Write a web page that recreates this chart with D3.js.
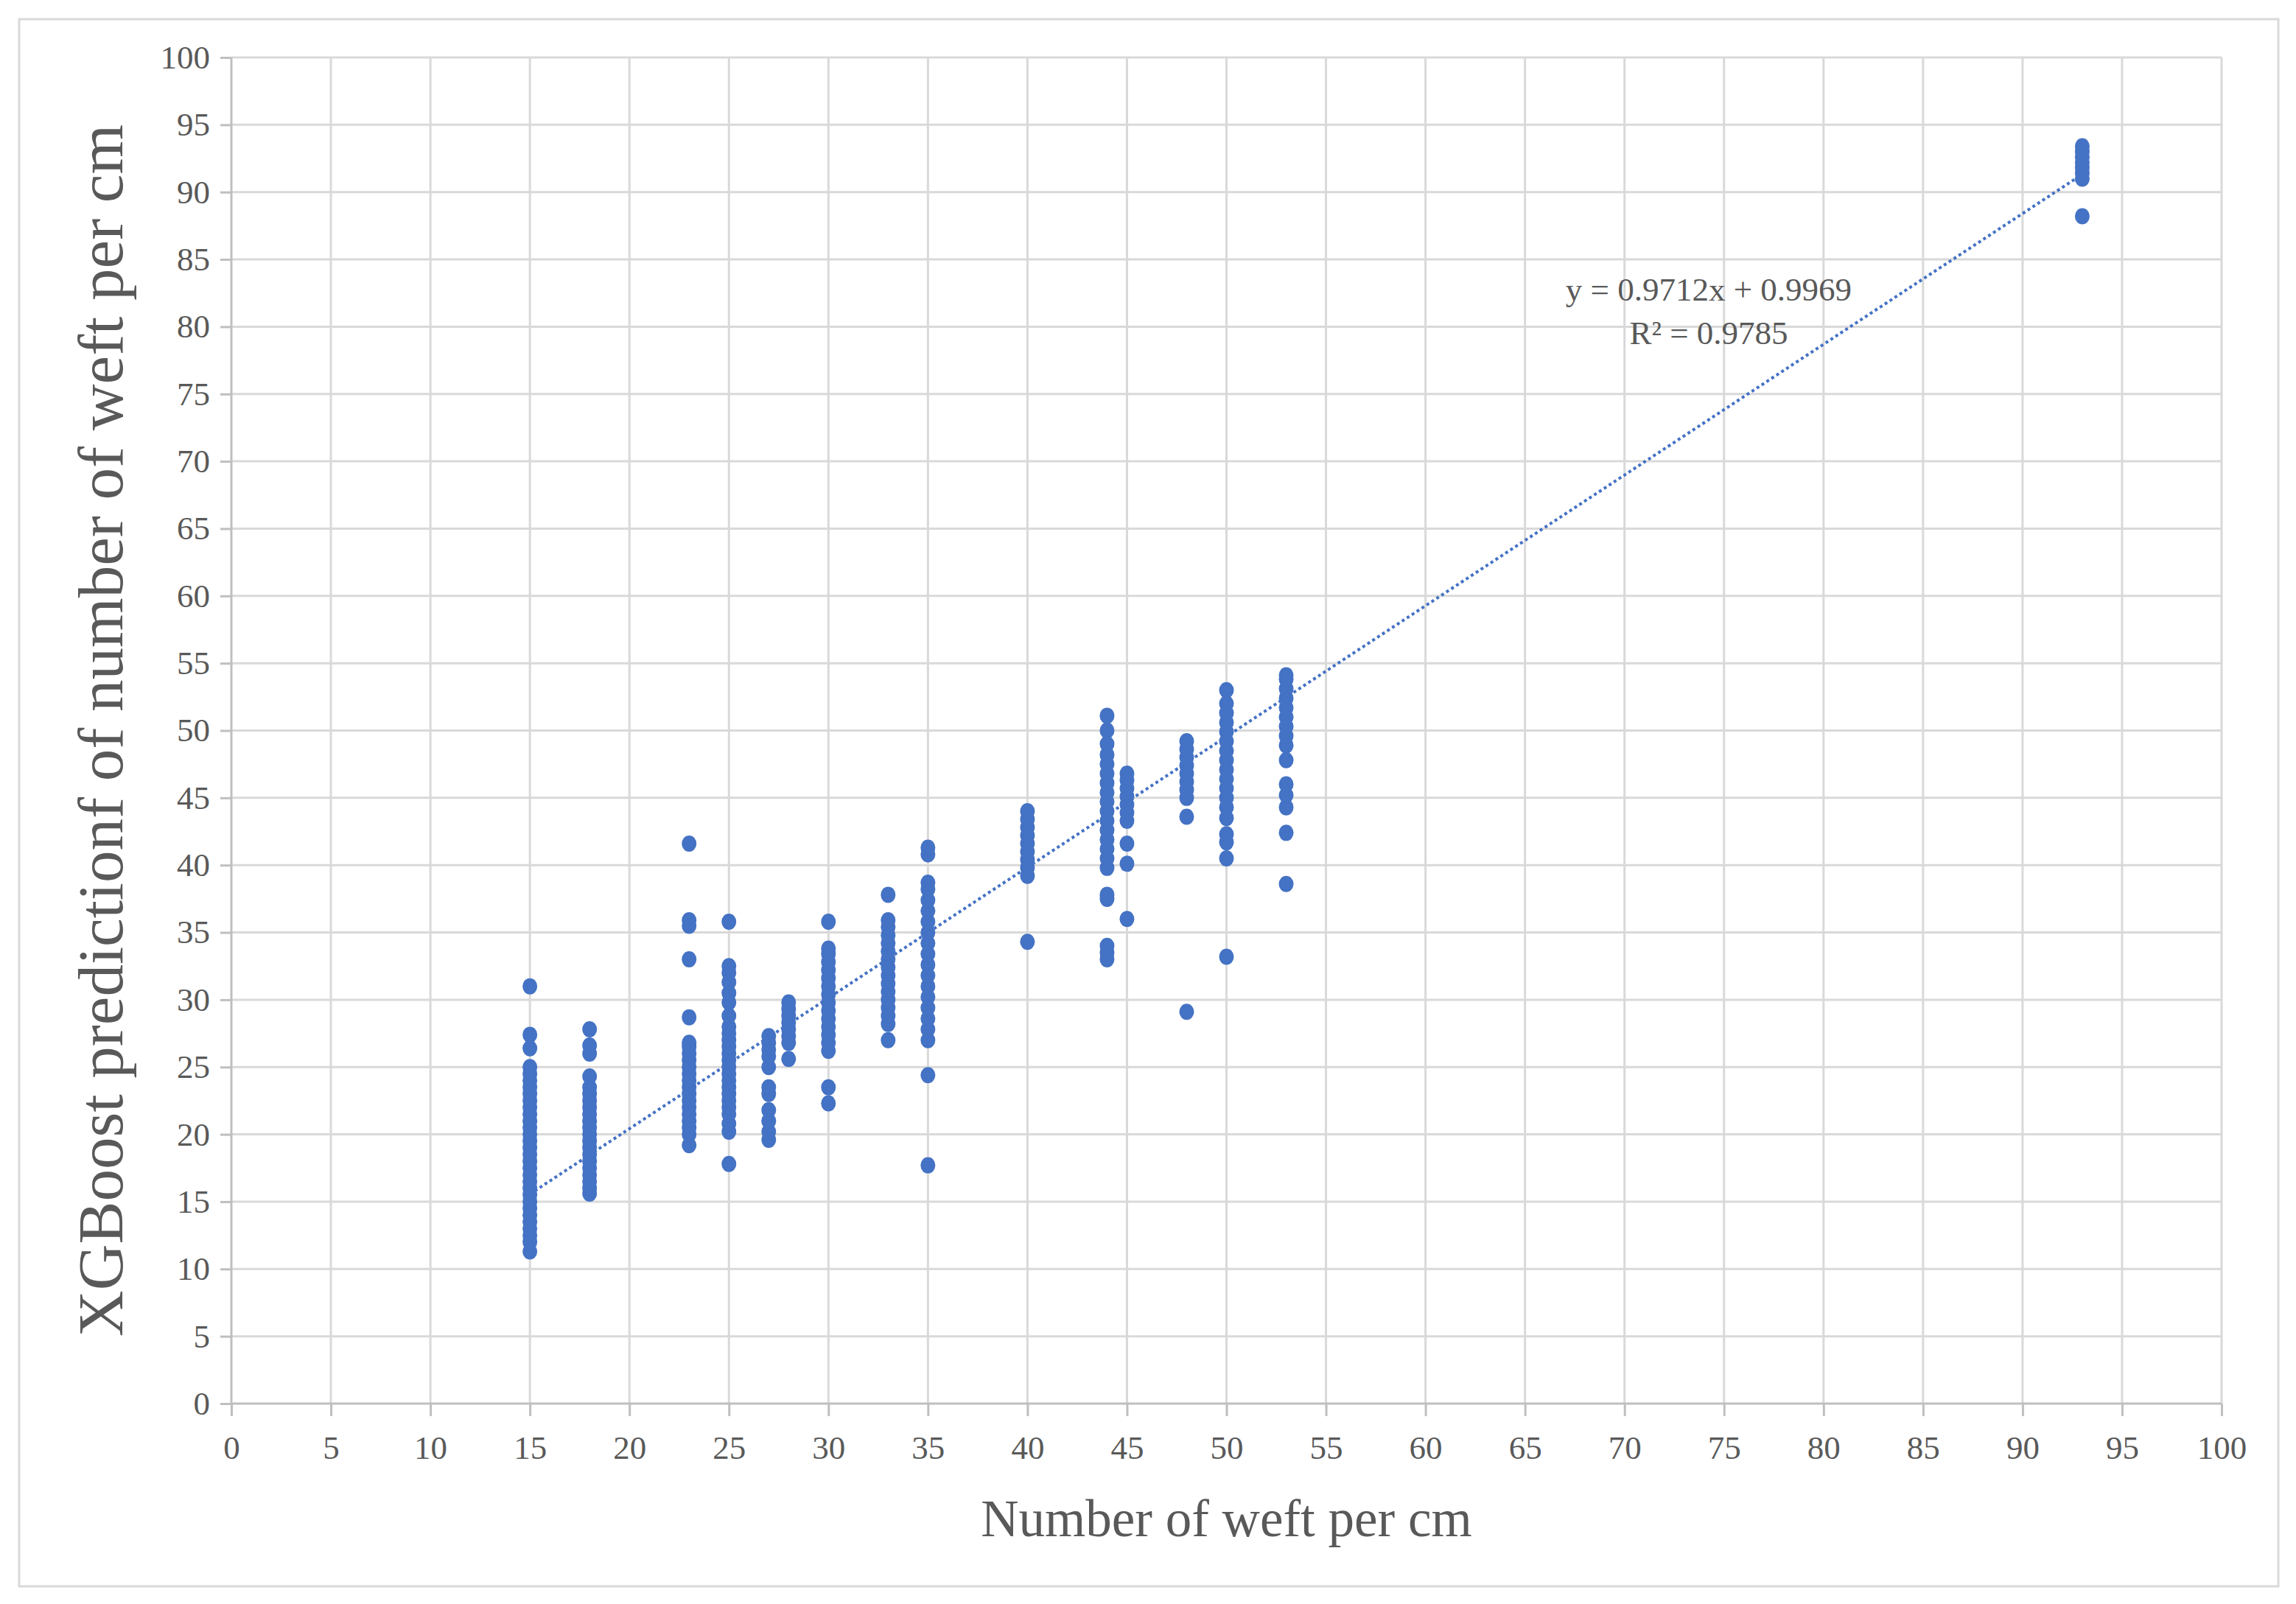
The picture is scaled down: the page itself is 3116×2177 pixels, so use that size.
<!DOCTYPE html>
<html><head><meta charset="utf-8">
<script src="https://cdn.jsdelivr.net/npm/d3@7"></script>
<style>body{margin:0;background:#fff}</style></head>
<body><svg id="c" width="3116" height="2177"></svg>
<script>
const xTicks = d3.range(0, 101, 5);
const yTicks = d3.range(0, 101, 5);
const columns = [15,18,23,25,27,28,30,33,35,40,44,45,48,50,53,93];
const v15 = [11.3,12,12.5,13,13.5,14,14.5,15,15.5,16,16.5,17,17.5,18,18.5,19,19.5,20,20.5,21,21.5,22,22.5,23,23.5,24,24.5,25,26.4,27.4,31];
const v18 = [15.6,16,16.5,17,17.5,18,18.5,19,19.5,20,20.5,21,21.5,22,22.5,23,23.5,24.3,26,26.6,27.8];
const v23 = [19.2,20,20.5,21,21.5,22,22.5,23,23.5,24,24.5,25,25.5,26,26.5,26.8,28.7,33,35.5,35.9,41.6];
const v25 = [17.8,20.2,20.8,21.5,22,22.5,23,23.5,24,24.5,25,25.5,26,26.5,27,27.5,28,28.8,29.8,30.5,31.3,32,32.5,35.8];
const v27 = [19.6,20.2,21,21.8,23,23.5,25,25.8,26.3,26.8,27.3];
const v28 = [25.6,26.8,27.3,27.8,28.3,28.8,29.3,29.8];
const v30 = [22.3,23.5,26.2,26.8,27.4,28,28.6,29.2,29.8,30.4,31,31.6,32.2,32.8,33.4,33.8,35.8];
const v33 = [27,28.2,28.8,29.4,30,30.6,31.2,31.8,32.4,33,33.6,34.2,34.8,35.4,35.9,37.8];
const v35 = [17.7,24.4,27,27.8,28.6,29.4,30.2,31,31.8,32.6,33.4,34.2,35,35.8,36.6,37.4,38.2,38.7,40.8,41.3];
const v40 = [34.3,39.2,39.8,40.4,41,41.6,42.2,42.8,43.4,44];
const v44 = [33,33.5,34,37.5,37.8,39.8,40.5,41.2,41.9,42.6,43.3,44,44.7,45.4,46.1,46.8,47.5,48.2,49,50,51.1];
const v45 = [36,40.1,41.6,43.3,43.9,44.5,45.1,45.7,46.3,46.8];
const v48 = [29.1,43.6,45,45.6,46.2,46.8,47.4,48,48.6,49.2];
const v50 = [33.2,40.5,41.7,42.3,43.5,44.3,45,45.7,46.4,47.1,47.8,48.5,49.2,49.9,50.6,51.3,52,53];
const v53 = [38.6,42.4,44.3,45.2,46,47.8,48.9,49.6,50.3,51,51.7,52.4,53.1,53.8,54.1];
const v93 = [88.2,91,91.4,91.8,92.2,92.6,93,93.4];
const seriesValues = [v15,v18,v23,v25,v27,v28,v30,v33,v35,v40,v44,v45,v48,v50,v53,v93];
const slope = 0.9712, intercept = 0.9969;
const eqText = "y = 0.9712x + 0.9969", r2Text = "R² = 0.9785";
const xTitle = "Number of weft per cm", yTitle = "XGBoost predictionf of number of weft per cm";

const points = [];
columns.forEach((c,i)=>seriesValues[i].forEach(v=>points.push([c,v])));

const svg = d3.select("#c");
const font = "'Liberation Serif','DejaVu Serif',serif";
const L=314,R=3015,T=78,B=1905;
const x = d3.scaleLinear().domain([0,100]).range([L,R]);
const y = d3.scaleLinear().domain([0,100]).range([B,T]);

svg.append("rect").attr("x",26).attr("y",26).attr("width",3066).attr("height",2127)
  .attr("fill","#fff").attr("stroke","#d9d9d9").attr("stroke-width",3);

const g = svg.append("g");
g.selectAll(".gx").data(xTicks.slice(1)).join("line").attr("x1",d=>x(d)).attr("x2",d=>x(d))
  .attr("y1",T).attr("y2",B).attr("stroke","#d9d9d9").attr("stroke-width",3);
g.selectAll(".gy").data(yTicks.slice(1)).join("line").attr("y1",d=>y(d)).attr("y2",d=>y(d))
  .attr("x1",L).attr("x2",R).attr("stroke","#d9d9d9").attr("stroke-width",3);

const xa = svg.append("g").attr("transform",`translate(0,${B})`)
  .call(d3.axisBottom(x).tickValues(xTicks).tickSize(17).tickPadding(26));
const ya = svg.append("g").attr("transform",`translate(${L},0)`)
  .call(d3.axisLeft(y).tickValues(yTicks).tickSize(15).tickPadding(14));
[xa,ya].forEach(a=>{
  a.selectAll("path,line").attr("stroke","#bfbfbf").attr("stroke-width",3);
  a.selectAll("text").attr("font-family",font).attr("font-size",45).attr("fill","#595959");
});
xa.select(".domain").attr("d",`M${L},0H${R}`);
ya.select(".domain").attr("d",`M0,${B}V${T}`);

svg.append("g").selectAll("ellipse").data(points).join("ellipse")
  .attr("cx",d=>x(d[0])).attr("cy",d=>y(d[1])).attr("rx",10).attr("ry",11)
  .attr("fill","#4472C4");

svg.append("line").attr("x1",x(15)).attr("y1",y(slope*15+intercept))
  .attr("x2",x(93)).attr("y2",y(slope*93+intercept))
  .attr("stroke","#4472C4").attr("stroke-width",4).attr("stroke-dasharray","4,4");

svg.append("text").attr("x",2319).attr("y",408).attr("text-anchor","middle")
  .attr("font-family",font).attr("font-size",45).attr("fill","#595959").text(eqText);
svg.append("text").attr("x",2319).attr("y",467).attr("text-anchor","middle")
  .attr("font-family",font).attr("font-size",45).attr("fill","#595959").text(r2Text);

svg.append("text").attr("x",(L+R)/2).attr("y",2085).attr("text-anchor","middle")
  .attr("font-family",font).attr("font-size",71).attr("fill","#595959").text(xTitle);
svg.append("text").attr("transform",`translate(166,${(T+B)/2}) rotate(-90)`).attr("text-anchor","middle")
  .attr("font-family",font).attr("font-size",87).attr("fill","#595959").text(yTitle);
</script></body></html>
